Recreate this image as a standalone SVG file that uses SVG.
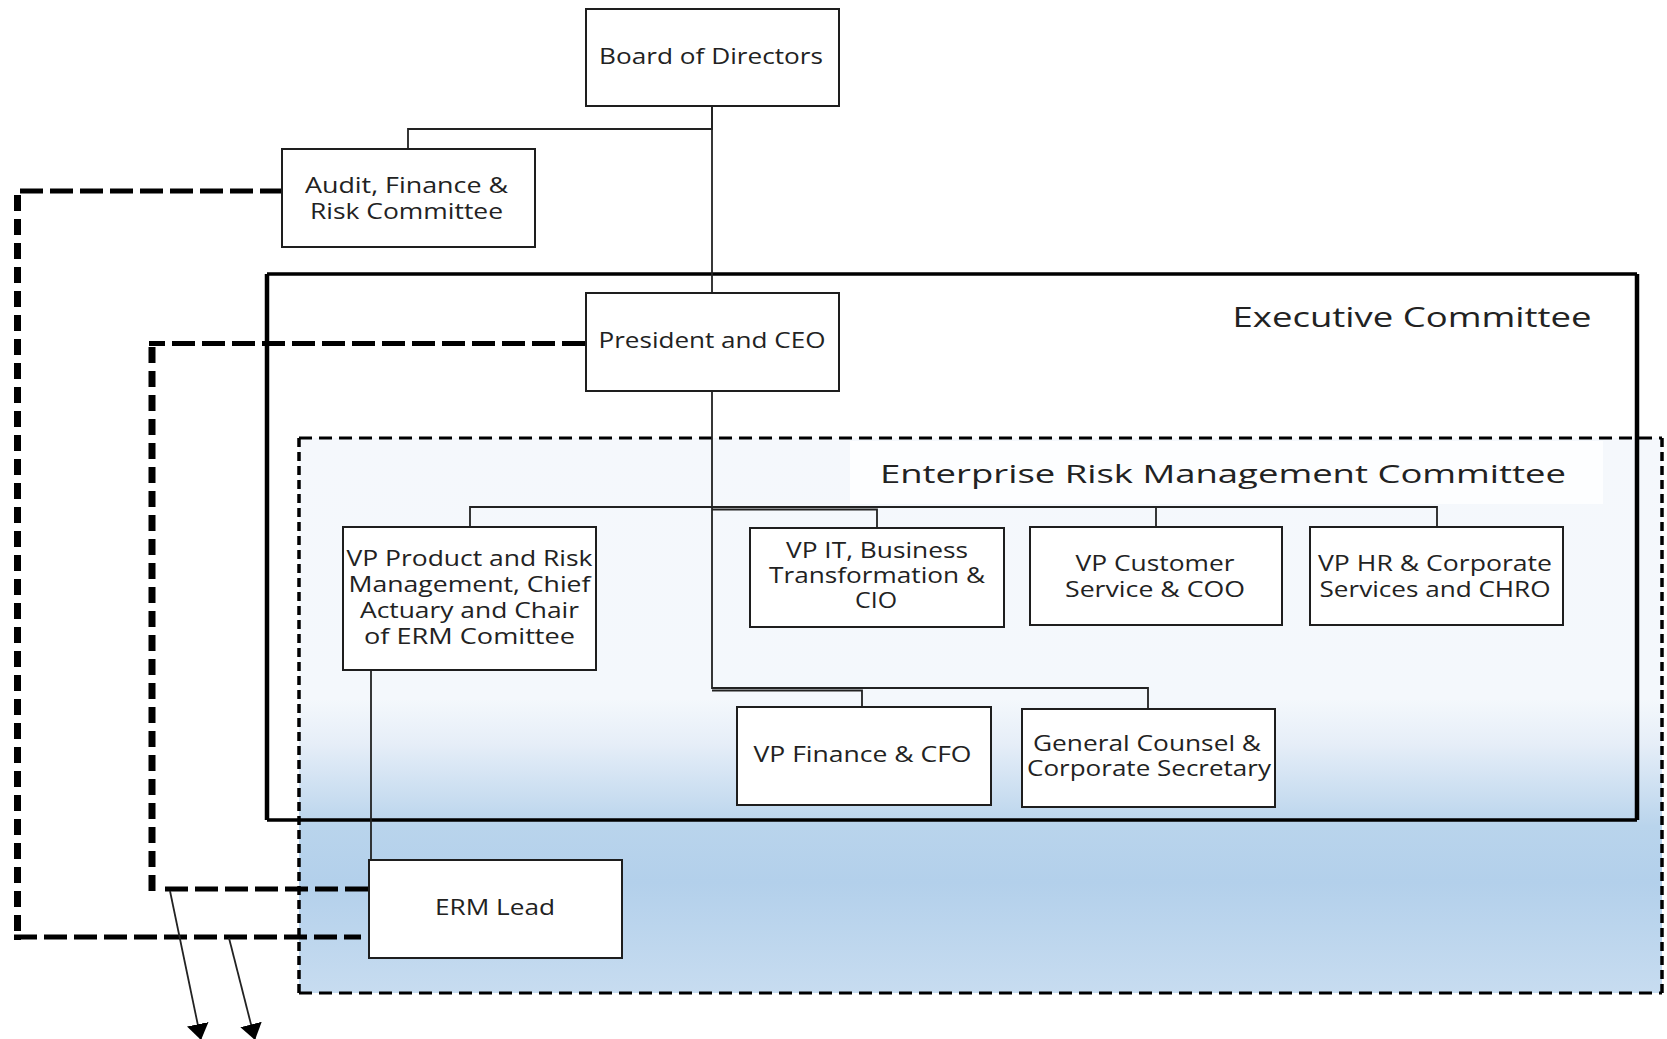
<svg xmlns="http://www.w3.org/2000/svg" width="1667" height="1039" viewBox="0 0 1667 1039">
<defs>
<style>
.box{fill:#fff;stroke:#1e1e1e;stroke-width:2}
.t{font-family:"Open Sans","DejaVu Sans",sans-serif;font-size:21px;fill:#222;text-anchor:middle}
.title{font-family:"Open Sans","DejaVu Sans",sans-serif;fill:#222;text-anchor:middle}
.con{fill:none;stroke:#222;stroke-width:1.8}
.dh{fill:none;stroke:#000;stroke-width:5;stroke-dasharray:23 7}
.dv{fill:none;stroke:#000;stroke-width:7;stroke-dasharray:16 8}
.arr{fill:none;stroke:#222;stroke-width:1.8}
</style>
<linearGradient id="ermg" x1="0" y1="0" x2="0" y2="1">
<stop offset="0" stop-color="#f5f8fc"/>
<stop offset="0.47" stop-color="#f4f8fc"/>
<stop offset="0.55" stop-color="#e6eef8"/>
<stop offset="0.7" stop-color="#b9d4ec"/>
<stop offset="0.8" stop-color="#b3d0eb"/>
<stop offset="1" stop-color="#c7dcf0"/>
</linearGradient>
<marker id="ah" viewBox="0 0 16 22" refX="16" refY="11" markerWidth="16" markerHeight="22" markerUnits="userSpaceOnUse" orient="auto">
<path d="M0,0 L16,11 L0,22 z" fill="#000"/>
</marker>
</defs>

<g id="erm-committee">
<rect x="299" y="438" width="1363" height="555" fill="url(#ermg)"/>
<path d="M299,438 H1662 M299,993 H1662" fill="none" stroke="#000" stroke-width="3" stroke-dasharray="13 7"/>
<path d="M299,438 V993 M1662,438 V993" fill="none" stroke="#000" stroke-width="3.5" stroke-dasharray="9 5"/>
<rect x="850" y="441" width="753" height="63" fill="#fdfeff"/>
<text class="title" x="1223" y="483" font-size="26" textLength="686" lengthAdjust="spacingAndGlyphs">Enterprise Risk Management Committee</text>
</g>

<g id="executive-committee">
<path d="M267,274 H1637 M267,820 H1637" fill="none" stroke="#000" stroke-width="3.5"/>
<path d="M267,274 V820 M1637,274 V820" fill="none" stroke="#000" stroke-width="4.5"/>
<text class="title" x="1412" y="327" font-size="28" textLength="359" lengthAdjust="spacingAndGlyphs">Executive Committee</text>
</g>

<g id="connectors">
<path class="con" d="M712,106 V129 H408 V149"/>
<path class="con" d="M712,106 V293"/>
<path class="con" d="M712,391 V688 H1148 V709"/>
<path class="con" d="M470,527 V507 H1437 V527"/>
<path class="con" d="M1156,507 V527"/>
<path class="con" d="M712,509.5 H877 V528"/>
<path class="con" d="M712,690.5 H862 V707"/>
<path class="con" d="M371,670 V860"/>
<path class="dh" d="M283,191 H14"/>
<path class="dv" d="M17.5,195 V940"/>
<path class="dh" d="M14,937 H361"/>
<path class="dh" d="M585,343.5 H149"/>
<path class="dv" d="M152,347 V892"/>
<path class="dh" d="M165,889 H368"/>
<path class="arr" d="M170,891 L201,1040" marker-end="url(#ah)"/>
<path class="arr" d="M229,938 L255,1040" marker-end="url(#ah)"/>
</g>

<g id="board">
<rect class="box" x="586" y="9" width="253" height="97"/>
<text class="t" x="711" y="64" textLength="224" lengthAdjust="spacingAndGlyphs">Board of Directors</text>
</g>
<g id="audit">
<rect class="box" x="282" y="149" width="253" height="98"/>
<text class="t" x="406.5" y="192.5" textLength="203" lengthAdjust="spacingAndGlyphs">Audit, Finance &amp;</text>
<text class="t" x="406.5" y="218.5" textLength="193" lengthAdjust="spacingAndGlyphs">Risk Committee</text>
</g>
<g id="president">
<rect class="box" x="586" y="293" width="253" height="98"/>
<text class="t" x="712" y="348" textLength="227" lengthAdjust="spacingAndGlyphs">President and CEO</text>
</g>
<g id="vp-product">
<rect class="box" x="343" y="527" width="253" height="143"/>
<text class="t" x="469.5" y="566" textLength="246" lengthAdjust="spacingAndGlyphs">VP Product and Risk</text>
<text class="t" x="469.5" y="592" textLength="242" lengthAdjust="spacingAndGlyphs">Management, Chief</text>
<text class="t" x="469.5" y="618" textLength="219" lengthAdjust="spacingAndGlyphs">Actuary and Chair</text>
<text class="t" x="469.5" y="644" textLength="211" lengthAdjust="spacingAndGlyphs">of ERM Comittee</text>
</g>
<g id="vp-it">
<rect class="box" x="750" y="528" width="254" height="99"/>
<text class="t" x="877" y="558" textLength="182" lengthAdjust="spacingAndGlyphs">VP IT, Business</text>
<text class="t" x="877" y="583" textLength="216" lengthAdjust="spacingAndGlyphs">Transformation &amp;</text>
<text class="t" x="876" y="608" textLength="42" lengthAdjust="spacingAndGlyphs">CIO</text>
</g>
<g id="vp-customer">
<rect class="box" x="1030" y="527" width="252" height="98"/>
<text class="t" x="1155" y="570.5" textLength="159" lengthAdjust="spacingAndGlyphs">VP Customer</text>
<text class="t" x="1155" y="596.5" textLength="180" lengthAdjust="spacingAndGlyphs">Service &amp; COO</text>
</g>
<g id="vp-hr">
<rect class="box" x="1310" y="527" width="253" height="98"/>
<text class="t" x="1435" y="570.5" textLength="234" lengthAdjust="spacingAndGlyphs">VP HR &amp; Corporate</text>
<text class="t" x="1435" y="596.5" textLength="231" lengthAdjust="spacingAndGlyphs">Services and CHRO</text>
</g>
<g id="vp-finance">
<rect class="box" x="737" y="707" width="254" height="98"/>
<text class="t" x="862.5" y="761.5" textLength="218" lengthAdjust="spacingAndGlyphs">VP Finance &amp; CFO</text>
</g>
<g id="general-counsel">
<rect class="box" x="1022" y="709" width="253" height="98"/>
<text class="t" x="1147" y="751" textLength="228" lengthAdjust="spacingAndGlyphs">General Counsel &amp;</text>
<text class="t" x="1149" y="776" textLength="244" lengthAdjust="spacingAndGlyphs">Corporate Secretary</text>
</g>
<g id="erm-lead">
<rect class="box" x="369" y="860" width="253" height="98"/>
<text class="t" x="495" y="915" textLength="120" lengthAdjust="spacingAndGlyphs">ERM Lead</text>
</g>
</svg>
